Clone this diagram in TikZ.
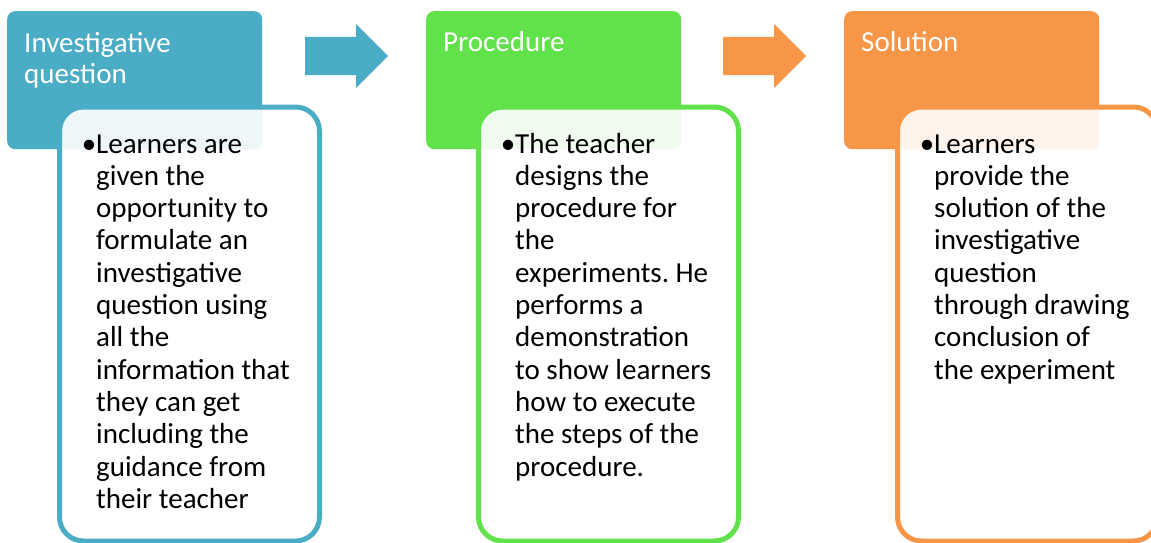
\documentclass[tikz,border=0pt]{standalone}
\usepackage{fontspec}
\setmainfont{Carlito}
\frenchspacing
\usetikzlibrary{shapes.arrows}

\definecolor{question-blue}{HTML}{4BACC6}
\definecolor{procedure-green}{HTML}{61E24B}
\definecolor{solution-orange}{HTML}{F79646}

\tikzset{
  header/.style={fill=#1, rounded corners=8pt, anchor=north west, inner sep=0pt,
    minimum width=255pt, minimum height=138pt},
  body/.style={draw=#1, line width=5pt, fill=white, fill opacity=0.9, rounded corners=24pt,
    anchor=north west, inner sep=0pt, minimum width=260pt, minimum height=434pt},
  header-text/.style={anchor=base west, align=left, text=white, inner sep=0pt,
    font=\fontsize{29pt}{31pt}\selectfont},
  body-text/.style={anchor=base west, align=left, inner sep=0pt,
    font=\fontsize{29pt}{32.3pt}\selectfont},
  step-arrow/.style={single arrow, fill=#1, anchor=tail, inner xsep=0pt, inner ysep=19pt,
    minimum height=83pt, single arrow head extend=13pt}
}

\begin{document}
\begin{tikzpicture}[x=1pt,y=-1pt]
\useasboundingbox (0,0) rectangle (1151,543);

% top left corners of the boxes
\coordinate (question-corner) at (7,11);
\coordinate (procedure-corner) at (426,11);
\coordinate (solution-corner) at (844,11);
\coordinate (question-body-corner) at (57,104.5);
\coordinate (procedure-body-corner) at (476,104.5);
\coordinate (solution-body-corner) at (895,104.5);

\node [header=question-blue] (question) at (question-corner) {};
\node [header=procedure-green] (procedure) at (procedure-corner) {};
\node [header=solution-orange] (solution) at (solution-corner) {};

\node [body=question-blue] (question-body) at (question-body-corner) {};
\node [body=procedure-green] (procedure-body) at (procedure-body-corner) {};
\node [body=solution-orange] (solution-body) at (solution-body-corner) {};

% texts sit on the baseline of their last line
\node [header-text] (question-label) at (24,83) {Investigative\\question};
\node [header-text] (procedure-label) at (443,52) {Procedure};
\node [header-text] (solution-label) at (861,52) {Solution};

\node [body-text] (question-text) at (96,508.3) {\llap{•}Learners are\\given the\\opportunity to\\formulate an\\investigative\\question using\\all the\\information that\\they can get\\including the\\guidance from\\their teacher};
\node [body-text] (procedure-text) at (515,476) {\llap{•}The teacher\\designs the\\procedure for\\the\\experiments. He\\performs a\\demonstration\\to show learners\\how to execute\\the steps of the\\procedure.};
\node [body-text] (solution-text) at (934,379.1) {\llap{•}Learners\\provide the\\solution of the\\investigative\\question\\through drawing\\conclusion of\\the experiment};

\node [step-arrow=question-blue] (question-arrow) at (305,56) {};
\node [step-arrow=solution-orange] (procedure-arrow) at (723,56) {};

\end{tikzpicture}
\end{document}
